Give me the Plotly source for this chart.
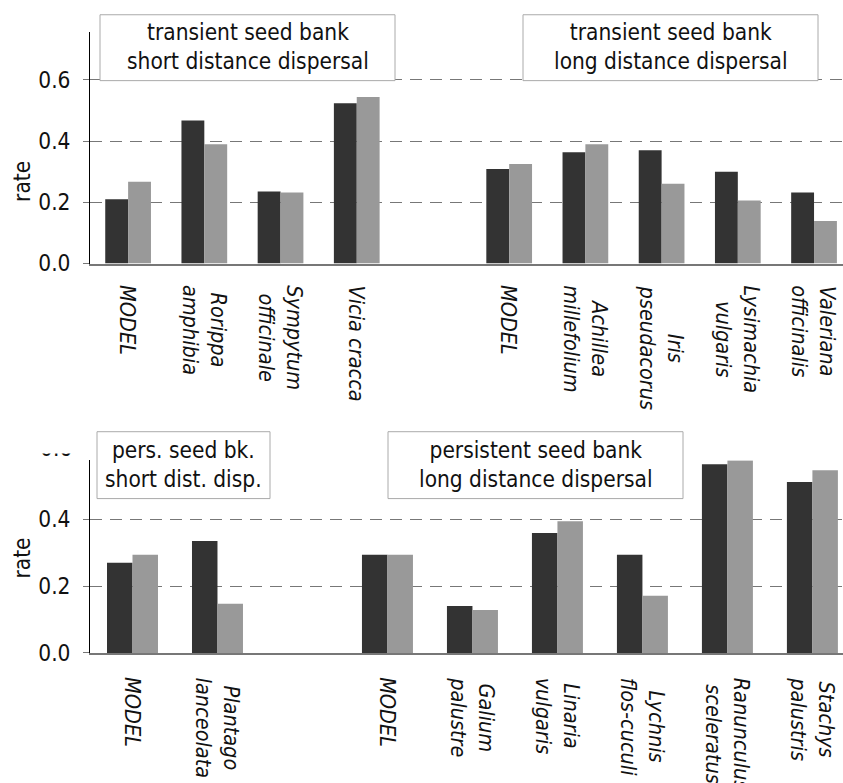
import plotly.graph_objects as go

W, H = 843, 783
FONT = "DejaVu Sans Condensed, DejaVu Sans, sans-serif"
DARK = "#333333"
LIGHT = "#999999"
GRID = "#777777"

# ---- upper panel: transient seed bank ----
top_short_species = ["MODEL", "Rorippa<br>amphibia", "Sympytum<br>officinale", "Vicia cracca"]
top_short_dark = [0.210, 0.467, 0.235, 0.524]
top_short_light = [0.267, 0.390, 0.232, 0.544]

top_long_species = ["MODEL", "Achillea<br>millefolium", "Iris<br>pseudacorus",
                    "Lysimachia<br>vulgaris", "Valeriana<br>officinalis"]
top_long_dark = [0.309, 0.364, 0.370, 0.300, 0.232]
top_long_light = [0.325, 0.390, 0.261, 0.206, 0.139]

# ---- lower panel: persistent seed bank ----
bot_short_species = ["MODEL", "Plantago<br>lanceolata"]
bot_short_dark = [0.270, 0.335]
bot_short_light = [0.294, 0.147]

bot_long_species = ["MODEL", "Galium<br>palustre", "Linaria<br>vulgaris",
                    "Lychnis<br>flos-cuculi", "Ranunculus<br>sceleratus", "Stachys<br>palustris"]
bot_long_dark = [0.294, 0.141, 0.359, 0.294, 0.565, 0.512]
bot_long_light = [0.294, 0.129, 0.394, 0.171, 0.576, 0.547]

y_ticks = [0.0, 0.2, 0.4, 0.6]


def px_x(p):
    return p / W


def px_y(p):
    return 1 - p / H


def positions(n_first, n_second):
    """Slot positions for two groups separated by one empty slot."""
    first = list(range(n_first))
    second = [n_first + 1 + i for i in range(n_second)]
    return first, second


fig = go.Figure()
annotations = []

panels = [
    dict(xa="x", ya="y", short=(top_short_species, top_short_dark, top_short_light),
         long=(top_long_species, top_long_dark, top_long_light), label_top=288),
    dict(xa="x2", ya="y2", short=(bot_short_species, bot_short_dark, bot_short_light),
         long=(bot_long_species, bot_long_dark, bot_long_light), label_top=687),
]

for panel in panels:
    s_names, s_dark, s_light = panel["short"]
    l_names, l_dark, l_light = panel["long"]
    xs1, xs2 = positions(len(s_names), len(l_names))
    xs = xs1 + xs2
    names = s_names + l_names
    fig.add_trace(go.Bar(x=xs, y=s_dark + l_dark, marker=dict(color=DARK, line=dict(width=0)),
                         xaxis=panel["xa"], yaxis=panel["ya"], showlegend=False))
    fig.add_trace(go.Bar(x=xs, y=s_light + l_light, marker=dict(color=LIGHT, line=dict(width=0)),
                         xaxis=panel["xa"], yaxis=panel["ya"], showlegend=False))
    for x, name in zip(xs, names):
        annotations.append(dict(
            x=x, xref=panel["xa"], y=px_y(panel["label_top"]), yref="paper",
            text=name, textangle=90, xanchor="center", yanchor="top", align="center",
            showarrow=False, font=dict(family=FONT, size=21.5, color="#111111", style="italic"),
        ))

axis_common_y = dict(
    tickvals=y_ticks, ticktext=[f"{v:.1f}" for v in y_ticks],
    ticks="outside", ticklen=6, tickwidth=1, tickcolor=GRID,
    ticklabelstandoff=8,
    showline=True, linecolor="#000000", linewidth=1,
    showgrid=True, gridcolor=GRID, gridwidth=1, griddash="12px,8px",
    zeroline=False, tickfont=dict(family=FONT, size=22.5, color="#111111"),
    fixedrange=True,
)
axis_common_x = dict(
    showline=True, linecolor=GRID, linewidth=2, showticklabels=False, ticks="",
    showgrid=False, zeroline=False, fixedrange=True, domain=[px_x(90), 1.0],
)

# y-axis titles
for yc in (185, 568):
    annotations.append(dict(
        x=px_x(22), y=px_y(yc), xref="paper", yref="paper", text="rate", textangle=-90,
        showarrow=False, xanchor="center", yanchor="middle",
        font=dict(family=FONT, size=22.5, color="#111111"),
    ))

# panel captions in framed boxes
boxes = [
    (100, 395, 15, 82, "transient seed bank<br>short distance dispersal"),
    (523, 818, 15, 82, "transient seed bank<br>long distance dispersal"),
    (97, 270, 439, 507, "pers. seed bk.<br>short dist. disp."),
    (388, 683, 439, 507, "persistent seed bank<br>long distance dispersal"),
]
shapes = []
for x0, x1, y0, y1, txt in boxes:
    shapes.append(dict(type="rect", xref="paper", yref="paper",
                       x0=px_x(x0), x1=px_x(x1), y0=px_y(y1), y1=px_y(y0),
                       fillcolor="white", line=dict(color="#aaaaaa", width=1), layer="above"))
    annotations.append(dict(
        x=px_x((x0 + x1) / 2), y=px_y((y0 + y1) / 2 - 1), xref="paper", yref="paper",
        text=txt, showarrow=False, align="center", xanchor="center", yanchor="middle",
        font=dict(family=FONT, size=22.5, color="#111111"),
    ))

# clipped top tick label of the lower panel
annotations.append(dict(
    x=px_x(74), y=px_y(471), xref="paper", yref="paper", text="0.6", showarrow=False,
    xanchor="right", yanchor="bottom", font=dict(family=FONT, size=22.5, color="#111111"),
))
annotations.append(dict(
    x=px_x(60), y=px_y(446), xref="paper", yref="paper", text=" ", showarrow=False,
    xanchor="center", yanchor="middle", width=56, height=28, borderpad=0,
    bgcolor="white", font=dict(family=FONT, size=10),
))

fig.update_layout(
    width=W, height=H,
    margin=dict(l=0, r=0, t=0, b=0),
    paper_bgcolor="white", plot_bgcolor="white",
    barmode="group", bargap=0.4, bargroupgap=0,
    xaxis=dict(axis_common_x, range=[-0.5, 9.38], anchor="y"),
    yaxis=dict(axis_common_y, range=[0, 0.755], domain=[px_y(268), px_y(33)], anchor="x"),
    xaxis2=dict(axis_common_x, range=[-0.5, 8.36], anchor="y2"),
    yaxis2=dict(axis_common_y, range=[0, 0.577], domain=[px_y(664), px_y(468)], anchor="x2"),
    shapes=shapes,
    annotations=annotations,
    font=dict(family=FONT),
)

fig.write_html("out.html")
